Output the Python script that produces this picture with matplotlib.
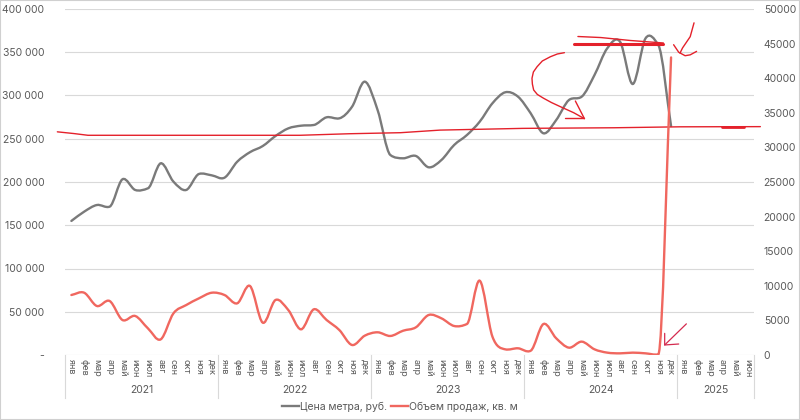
import matplotlib
matplotlib.use("Agg")
import matplotlib.pyplot as plt
from matplotlib.path import Path
from matplotlib.patches import PathPatch, Rectangle
from matplotlib.lines import Line2D
import matplotlib.transforms as mtransforms
import numpy as np

plt.rcParams["font.family"] = ["Inter", "DejaVu Sans"]

# данные
years = ["2021", "2022", "2023", "2024", "2025"]
months = ["янв", "фев", "мар", "апр", "май", "июн",
          "июл", "авг", "сен", "окт", "ноя", "дек"]
month_labels = months * 4 + months[:6]

# цена метра, руб. (янв 2021 - дек 2024)
price = [155000, 165700, 173400, 171500, 203100, 190800, 192700, 221600, 200400, 190800, 209300, 207700,
         205000, 223500, 234500, 241600, 253200, 262000, 265100, 265900, 274800, 273600, 287100, 316000,
         283200, 231200, 227400, 230100, 217000, 225400, 242800, 254300, 269700, 291000, 303700, 298700,
         279400, 256300, 271700, 294800, 298700, 323700, 354600, 362200, 313300, 366100, 358400, 264700]

# объем продаж, кв. м (янв 2021 - дек 2024)
volume = [8670, 9000, 7080, 7800, 5060, 5640, 3850, 2260, 6020, 7220, 8190, 9000,
          8670, 7470, 9970, 4670, 7950, 6500, 3710, 6600, 5060, 3610, 1445, 2800,
          3280, 2750, 3510, 4000, 5780, 5300, 4190, 4480, 10740, 2650, 820, 970,
          620, 4480, 2410, 1060, 1930, 820, 340, 240, 340, 240, 100, 43000]

# рукописные пометки (индекс месяца, руб.)
mark_level = [(-1.1, 258000), (0.2, 256000), (1.3, 254000), (17.9, 254000), (21.8, 255800),
              (25.8, 257000), (28.9, 260000), (35.4, 262000), (42.5, 262700), (47.7, 263800),
              (54.0, 264000)]
mark_top_a = [(39.7, 368200), (41.5, 367000), (43.8, 363600), (46.4, 360700)]
mark_top_b = [(39.4, 360000), (46.4, 360000)]
mark_curve = [(38.64, 349500), (38.09, 348000), (37.54, 344800), (36.91, 339900), (36.50, 333300),
              (36.21, 327200), (36.10, 319900), (36.13, 313300), (36.23, 306400), (36.52, 301200),
              (37.01, 296800), (37.62, 291900), (38.32, 287100), (39.37, 280100), (40.21, 273200)]
mark_head1 = [(39.5, 293600), (40.2, 273500)]
mark_head2 = [(38.7, 273500), (40.2, 273500)]
mark_check1 = [(48.8, 384000), (48.5, 368000), (47.9, 355000), (47.7, 349000)]
mark_check2 = [(47.2, 358700), (47.6, 350000), (48.1, 346000), (48.5, 347000), (49.0, 351000)]
mark_dash = [(51.0, 263800), (52.7, 263800)]
mark_low = [(48.2, 36000), (46.5, 11600)]
mark_low_head = [(46.5, 25000), (46.5, 11600), (47.6, 12700)]

GRAY = "#7a7a7a"
SALMON = "#f0675f"
RED = "#e4212b"
TXT = "#595959"
GRID = "#d9d9d9"


def smooth_path(xs, ys):
    xs = np.asarray(xs, float)
    ys = np.asarray(ys, float)
    n = len(xs)
    off = np.zeros(n)
    for i in range(n):
        if i == 0:
            m = ys[1] - ys[0]
        elif i == n - 1:
            m = ys[-1] - ys[-2]
        else:
            m = (ys[i + 1] - ys[i - 1]) / 2
        o = m / 3
        d = []
        if i > 0:
            d.append(abs(ys[i] - ys[i - 1]))
        if i < n - 1:
            d.append(abs(ys[i + 1] - ys[i]))
        lim = min(d)
        off[i] = np.clip(o, -lim, lim)
    verts = [(xs[0], ys[0])]
    codes = [Path.MOVETO]
    for i in range(n - 1):
        verts += [(xs[i] + 1 / 3, ys[i] + off[i]),
                  (xs[i + 1] - 1 / 3, ys[i + 1] - off[i + 1]),
                  (xs[i + 1], ys[i + 1])]
        codes += [Path.CURVE4] * 3
    return Path(verts, codes)


fig = plt.figure(figsize=(8, 4.2), dpi=100)
ax = fig.add_axes([65 / 800, 1 - 355 / 420, 689 / 800, 346 / 420])
ax2 = ax.twinx()

n_months = len(month_labels)
ax.set_xlim(-0.5, n_months - 0.5)
ax.set_ylim(0, 400000)
ax2.set_ylim(0, 50000)

yt = np.arange(0, 400001, 50000)
ax.set_yticks(yt)
ax.set_yticklabels(["-" if v == 0 else f"{v:,}".replace(",", " ") for v in yt])
ax2.set_yticks(np.arange(0, 50001, 5000))
ax2.set_yticklabels([str(v) for v in range(0, 50001, 5000)])

for v in yt:
    ax.axhline(v, color=GRID, lw=0.8, zorder=0)

for a in (ax, ax2):
    for s in a.spines.values():
        s.set_visible(False)
    a.tick_params(length=0, colors=TXT, labelsize=7.5)
ax.tick_params(axis="y", pad=15)
ax2.tick_params(axis="y", pad=7)

ax.set_xticks(range(n_months))
ax.set_xticklabels(month_labels, rotation=270, fontsize=6.5, color=TXT, va="top")
ax.tick_params(axis="x", pad=3)

# группировка по годам
trans = mtransforms.blended_transform_factory(ax.transData, ax.transAxes)
bounds = [-0.5, 11.5, 23.5, 35.5, 47.5, n_months - 0.5]
for b in bounds:
    ax.plot([b, b], [0, -0.125], transform=trans, color=GRID, lw=0.8, clip_on=False)
for k, yr in enumerate(years):
    mid = (bounds[k] + bounds[k + 1]) / 2
    ax.text(mid, -0.102, yr, transform=trans, ha="center", va="center", fontsize=7.5, color=TXT)

xi = np.arange(len(price))
ax.add_patch(PathPatch(smooth_path(xi, price), fill=False, edgecolor=GRAY, lw=1.7,
                       capstyle="round", zorder=3))
ax2.add_patch(PathPatch(smooth_path(np.arange(len(volume)), volume), fill=False,
                        edgecolor=SALMON, lw=1.7, capstyle="round", zorder=3))


def stroke(pts, color=RED, lw=1.0):
    px, py = zip(*pts)
    ax.plot(px, py, color=color, lw=lw, clip_on=False, solid_capstyle="round",
            solid_joinstyle="round", zorder=5)


stroke(mark_level, lw=1.0)
stroke(mark_top_a, lw=1.0)
stroke(mark_top_b, lw=2.2)
stroke(mark_curve, lw=1.0)
stroke(mark_head1, lw=1.0)
stroke(mark_head2, lw=1.0)
stroke(mark_check1, lw=1.0)
stroke(mark_check2, lw=1.0)
stroke(mark_dash, lw=2.0)
stroke(mark_low, color="#d42a4e", lw=0.9)
stroke(mark_low_head, color="#d42a4e", lw=0.9)

handles = [Line2D([], [], color=GRAY, lw=1.7), Line2D([], [], color=SALMON, lw=1.7)]
fig.legend(handles, ["Цена метра, руб.", "Объем продаж, кв. м"], loc="center",
           bbox_to_anchor=(0.5, 13 / 420), ncol=2, frameon=False, fontsize=7.5,
           handlelength=1.6, handletextpad=0.1, columnspacing=0.4, labelcolor=TXT)

fig.patches.append(Rectangle((0, 0), 1, 1, transform=fig.transFigure, fill=False,
                             edgecolor="#d0d0d0", lw=1.5))

fig.savefig("out.png", dpi=100)
